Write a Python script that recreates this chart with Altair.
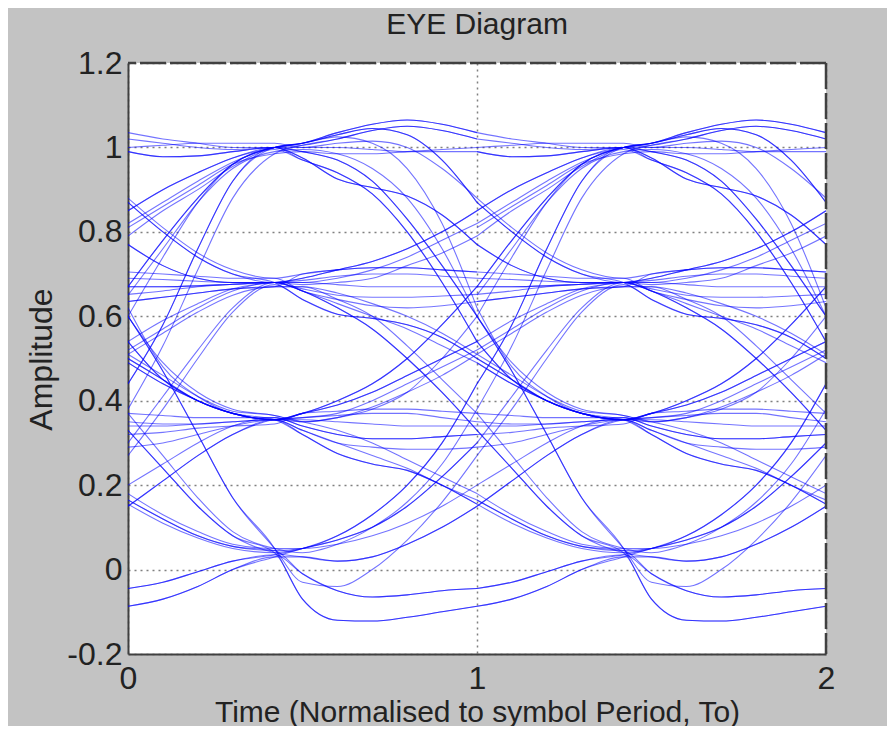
import altair as alt
import pandas as pd

# Sample positions inside one symbol period (sampling instant at t = 0.42)
T_TAIL = [0.0, 0.1, 0.2, 0.3, 0.42]
T_HEAD = [0.5, 0.6, 0.7, 0.8, 0.9, 1.0]

# Symbol-to-symbol transition shapes.
# 10 values at 0.08, 0.18, 0.28, 0.38, 0.48, 0.58 | 0.68, 0.78, 0.88, 1.0 symbol periods after the first symbol
TRANSITIONS = {
    "3-3h": [1.01, 1.035, 1.055, 1.065, 1.055, 1.035, 1.02, 1.01, 1.0, 1.0],
    "3-3f": [1.0, 1.0, 0.995, 0.99, 0.99, 0.99, 0.978, 0.98, 0.99, 1.0],
    "3-3g": [1.005, 1.02, 1.04, 1.05, 1.04, 1.02, 1.01, 1.0, 0.995, 1.0],
    "3-3k": [0.99, 0.985, 0.985, 0.99, 0.995, 1.0, 1.005, 1.01, 1.01, 1.01],
    "3-2h": [1.01, 1.03, 1.045, 1.03, 0.97, 0.87, 0.8, 0.74, 0.7, 0.68],
    "3-2e": [0.975, 0.925, 0.905, 0.885, 0.84, 0.77, 0.72, 0.69, 0.68, 0.68],
    "3-2d": [1.0, 1.01, 1.015, 1.0, 0.95, 0.88, 0.81, 0.75, 0.71, 0.69],
    "3-1h": [1.01, 1.025, 1.01, 0.95, 0.82, 0.62, 0.48, 0.41, 0.37, 0.355],
    "3-1e": [0.97, 0.94, 0.89, 0.8, 0.68, 0.54, 0.45, 0.4, 0.37, 0.355],
    "3-1d": [0.995, 0.985, 0.95, 0.88, 0.76, 0.6, 0.49, 0.42, 0.38, 0.365],
    "3-0": [0.99, 0.97, 0.92, 0.83, 0.72, 0.6, 0.47, 0.32, 0.17, 0.05],
    "2-3": [0.69, 0.71, 0.73, 0.76, 0.8, 0.85, 0.9, 0.94, 0.975, 1.0],
    "2-3b": [0.68, 0.69, 0.71, 0.74, 0.78, 0.82, 0.87, 0.92, 0.965, 1.0],
    "2-3c": [0.675, 0.68, 0.69, 0.72, 0.75, 0.79, 0.85, 0.9, 0.955, 0.995],
    "2-3d": [0.66, 0.68, 0.7, 0.73, 0.77, 0.81, 0.86, 0.91, 0.96, 0.985],
    "2-2": [0.68, 0.675, 0.67, 0.67, 0.67, 0.67, 0.67, 0.672, 0.676, 0.68],
    "2-2b": [0.665, 0.65, 0.645, 0.645, 0.648, 0.652, 0.66, 0.67, 0.676, 0.68],
    "2-2c": [0.685, 0.695, 0.7, 0.7, 0.695, 0.69, 0.687, 0.683, 0.68, 0.68],
    "2-2d": [0.7, 0.71, 0.715, 0.715, 0.71, 0.705, 0.7, 0.695, 0.69, 0.69],
    "2-2e": [0.66, 0.64, 0.625, 0.62, 0.625, 0.635, 0.645, 0.655, 0.665, 0.67],
    "2-1": [0.66, 0.63, 0.6, 0.57, 0.53, 0.49, 0.44, 0.4, 0.37, 0.355],
    "2-1e": [0.64, 0.605, 0.595, 0.58, 0.55, 0.5, 0.45, 0.4, 0.37, 0.355],
    "2-1d": [0.67, 0.655, 0.63, 0.6, 0.56, 0.51, 0.46, 0.41, 0.375, 0.365],
    "2-0": [0.66, 0.62, 0.57, 0.5, 0.42, 0.33, 0.24, 0.15, 0.08, 0.04],
    "2-0d": [0.67, 0.64, 0.6, 0.53, 0.45, 0.37, 0.27, 0.17, 0.09, 0.05],
    "1-3": [0.37, 0.4, 0.44, 0.5, 0.58, 0.67, 0.78, 0.88, 0.96, 1.0],
    "1-3s": [0.35, 0.36, 0.38, 0.42, 0.5, 0.6, 0.74, 0.87, 0.96, 1.0],
    "1-3d": [0.36, 0.38, 0.42, 0.48, 0.56, 0.65, 0.76, 0.87, 0.95, 0.99],
    "1-2": [0.37, 0.39, 0.42, 0.46, 0.5, 0.54, 0.59, 0.63, 0.665, 0.68],
    "1-2b": [0.36, 0.37, 0.4, 0.44, 0.48, 0.52, 0.57, 0.62, 0.66, 0.68],
    "1-2d": [0.35, 0.36, 0.385, 0.42, 0.46, 0.51, 0.56, 0.61, 0.65, 0.67],
    "1-1": [0.355, 0.35, 0.345, 0.34, 0.34, 0.34, 0.34, 0.345, 0.35, 0.355],
    "1-1b": [0.33, 0.3, 0.29, 0.285, 0.285, 0.29, 0.3, 0.32, 0.34, 0.355],
    "1-1c": [0.36, 0.365, 0.37, 0.37, 0.36, 0.35, 0.345, 0.345, 0.35, 0.355],
    "1-1d": [0.37, 0.375, 0.38, 0.38, 0.375, 0.37, 0.365, 0.36, 0.36, 0.36],
    "1-1e": [0.34, 0.32, 0.31, 0.31, 0.315, 0.32, 0.325, 0.335, 0.34, 0.345],
    "1-0": [0.33, 0.3, 0.27, 0.24, 0.2, 0.165, 0.12, 0.08, 0.055, 0.045],
    "1-0e": [0.32, 0.275, 0.25, 0.235, 0.2, 0.155, 0.11, 0.075, 0.05, 0.04],
    "1-0d": [0.35, 0.33, 0.3, 0.26, 0.22, 0.18, 0.13, 0.09, 0.06, 0.05],
    "0-3": [0.05, 0.08, 0.13, 0.2, 0.3, 0.44, 0.58, 0.76, 0.92, 1.0],
    "0-3d": [0.04, 0.06, 0.1, 0.16, 0.25, 0.38, 0.53, 0.71, 0.88, 0.985],
    "0-2": [0.05, 0.07, 0.1, 0.15, 0.22, 0.3, 0.41, 0.52, 0.62, 0.68],
    "0-2u": [-0.03, -0.04, 0.0, 0.07, 0.16, 0.27, 0.38, 0.5, 0.61, 0.675],
    "0-1": [0.03, 0.02, 0.03, 0.06, 0.1, 0.15, 0.21, 0.27, 0.32, 0.355],
    "0-1d": [0.05, 0.06, 0.08, 0.11, 0.15, 0.2, 0.25, 0.3, 0.34, 0.36],
    "0-0": [-0.01, -0.05, -0.065, -0.06, -0.05, -0.045, -0.03, -0.005, 0.02, 0.035],
    "0-0b": [-0.07, -0.12, -0.122, -0.113, -0.1, -0.087, -0.07, -0.04, 0.0, 0.03],
}

# Each trace in a period: (transition into the sampled symbol, transition out of it)
TRACES = [
    ("2-3", "3-3h"), ("2-3b", "3-2h"), ("1-3", "3-3g"), ("1-3s", "3-1h"),
    ("0-3", "3-2h"), ("3-3f", "3-3f"), ("3-3h", "3-2e"), ("3-3f", "3-1e"),
    ("2-3", "3-0"), ("3-3g", "3-2e"), ("2-3c", "3-1e"), ("0-3", "3-0"),
    ("1-3", "3-3h"), ("2-3d", "3-3k"), ("3-3k", "3-2d"), ("1-3d", "3-1d"),
    ("0-3d", "3-3g"),
    ("3-2h", "2-2"), ("3-2e", "2-3"), ("2-2", "2-1"), ("2-2b", "2-3b"),
    ("1-2", "2-2c"), ("1-2b", "2-0"), ("0-2", "2-3c"), ("3-2h", "2-1e"),
    ("2-2c", "2-2b"), ("0-2u", "2-1e"), ("3-2e", "2-0"), ("2-2", "2-3"),
    ("2-2d", "2-2e"), ("2-2e", "2-2d"), ("1-2d", "2-1d"), ("3-2d", "2-2d"),
    ("2-2e", "2-0d"),
    ("3-1h", "1-1"), ("3-1e", "1-3"), ("2-1", "1-2"), ("2-1e", "1-0e"),
    ("1-1", "1-1b"), ("1-1b", "1-3s"), ("0-1", "1-2b"), ("0-1", "1-0e"),
    ("2-1", "1-3"), ("1-1c", "1-0"), ("3-1e", "1-2"), ("2-1e", "1-1c"),
    ("1-1d", "1-1e"), ("1-1e", "1-1d"), ("2-1d", "1-2d"), ("0-1d", "1-1e"),
    ("3-1d", "1-0d"),
    ("3-0", "0-0b"), ("2-0", "0-1"), ("1-0", "0-0"), ("1-0e", "0-2"),
    ("0-0", "0-3"), ("0-0b", "0-1"), ("3-0", "0-2u"), ("2-0", "0-0b"),
    ("0-0", "0-0"), ("1-0", "0-3"), ("0-0b", "0-2"), ("1-0d", "0-1d"),
    ("2-0d", "0-3d"),
]

PERIODS = [0, 1]
X_TICKS = [0, 1, 2]
Y_TICKS = [-0.2, 0, 0.2, 0.4, 0.6, 0.8, 1, 1.2]
TITLE = ["EYE Diagram"]

rows = []
for period in PERIODS:
    for i, (into, out) in enumerate(TRACES):
        ys = TRANSITIONS[into][5:] + TRANSITIONS[out][:6]
        for t, v in zip(T_TAIL + T_HEAD, ys):
            rows.append({"trace": f"{period}-{i}", "t": t + period, "v": v})
df = pd.DataFrame(rows)

W, H = 698, 591
FONT = "Liberation Sans"
TXT = "#222222"

x_enc = alt.X(
    "t:Q",
    scale=alt.Scale(domain=[0, 2], nice=False, zero=False),
    axis=alt.Axis(
        values=X_TICKS, title="Time (Normalised to symbol Period, To)",
        grid=True, gridDash=[2, 4], gridColor="#808080", gridWidth=1.5,
        ticks=False, labelPadding=9, labelFontSize=32, labelFont=FONT,
        labelColor=TXT, labelExpr="'' + datum.value",
        titleFontSize=30, titleFont=FONT, titleFontWeight="normal",
        titleColor=TXT, titleX=349, titleY=58, titleBaseline="middle",
        domainColor="#404040", domainWidth=2, labelFlush=False,
    ),
)
y_enc = alt.Y(
    "v:Q",
    scale=alt.Scale(domain=[-0.2, 1.2], nice=False, zero=False),
    axis=alt.Axis(
        values=Y_TICKS, title="Amplitude",
        grid=True, gridDash=[2, 4], gridColor="#808080", gridWidth=1.5,
        ticks=False, labelPadding=6, labelFontSize=32, labelFont=FONT,
        labelColor=TXT, labelExpr="'' + datum.value",
        titleFontSize=32, titleFont=FONT, titleFontWeight="normal",
        titleColor=TXT, titleX=-87, titleY=296, titleAngle=270,
        titleBaseline="middle", titleAlign="center",
        domainColor="#404040", domainWidth=2, labelFlush=False,
    ),
)

lines = alt.Chart(df).mark_line(
    color="#0000ff", strokeWidth=1.1, opacity=0.55, interpolate="monotone", clip=True
).encode(x=x_enc, y=y_enc, detail="trace:N")

top_border = alt.Chart(pd.DataFrame({"v": [1.2]})).mark_rule(
    color="#404040", strokeWidth=2.5, strokeDash=[26, 4]
).encode(y=alt.Y("v:Q"))
right_border = alt.Chart(pd.DataFrame({"t": [2]})).mark_rule(
    color="#404040", strokeWidth=2.5, strokeDash=[26, 4]
).encode(x=alt.X("t:Q"))

title = alt.Chart(pd.DataFrame({"title": TITLE})).mark_text(
    font=FONT, fontSize=30, color=TXT, baseline="middle", align="center"
).encode(text="title:N", x=alt.value(W / 2), y=alt.value(-38))

chart = alt.layer(lines, top_border, right_border, title).properties(
    width=W, height=H,
    autosize=alt.AutoSizeParams(type="none"),
    padding={"left": 120, "top": 55, "right": 61, "bottom": 72},
).configure(background="#c3c3c3").configure_view(fill="white", stroke=None)

chart.save("out.html", embed_options={"renderer": "svg", "actions": False})
